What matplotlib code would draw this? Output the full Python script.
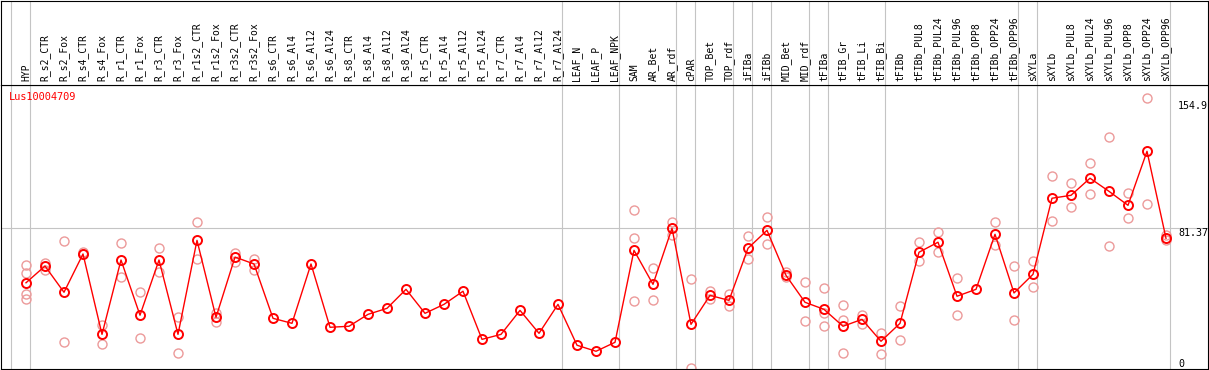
import matplotlib
matplotlib.use('Agg')
import matplotlib.pyplot as pyplot

GENE = 'Lus10004709'

samples = [
    'HYP', 'R_s2_CTR', 'R_s2_Fox', 'R_s4_CTR', 'R_s4_Fox', 'R_r1_CTR', 'R_r1_Fox',
    'R_r3_CTR', 'R_r3_Fox', 'R_r1s2_CTR', 'R_r1s2_Fox', 'R_r3s2_CTR', 'R_r3s2_Fox',
    'R_s6_CTR', 'R_s6_Al4', 'R_s6_Al12', 'R_s6_Al24', 'R_s8_CTR', 'R_s8_Al4',
    'R_s8_Al12', 'R_s8_Al24', 'R_r5_CTR', 'R_r5_Al4', 'R_r5_Al12', 'R_r5_Al24',
    'R_r7_CTR', 'R_r7_Al4', 'R_r7_Al12', 'R_r7_Al24', 'LEAF_N', 'LEAF_P', 'LEAF_NPK',
    'SAM', 'AR_Bet', 'AR_rdf', 'cPAR', 'TOP_Bet', 'TOP_rdf', 'iFIBa', 'iFIBb',
    'MID_Bet', 'MID_rdf', 'tFIBa', 'tFIB_Gr', 'tFIB_Li', 'tFIB_Bi', 'tFIBb',
    'tFIBb_PUL8', 'tFIBb_PUL24', 'tFIBb_PUL96', 'tFIBb_OPP8', 'tFIBb_OPP24',
    'tFIBb_OPP96', 'sXYLa', 'sXYLb', 'sXYLb_PUL8', 'sXYLb_PUL24', 'sXYLb_PUL96',
    'sXYLb_OPP8', 'sXYLb_OPP24', 'sXYLb_OPP96',
]

means = [
    49.8, 59.5, 44.3, 66.5, 19.9, 63.0, 31.0, 63.0, 19.9, 74.4, 29.8, 64.7, 60.7,
    29.2, 26.3, 60.7, 24.0, 24.6, 31.5, 35.0, 46.0, 32.1, 37.3, 44.9, 17.0,
    19.9, 33.8, 20.5, 37.3, 13.6, 10.1, 15.3,
    68.6, 48.9, 81.4, 25.7, 42.5, 39.6, 69.8, 80.2, 54.1, 38.5, 34.4, 24.6,
    28.6, 15.9, 26.3, 67.5, 73.3, 42.0, 46.0, 77.9, 43.9, 54.7, 98.8, 100.5,
    110.4, 102.8, 94.7, 126.0, 75.6,
]

replicates = [
    [59.9, 55.3, 43.3, 40.6], [61.4, 57.0], [73.8, 15.3], [67.8, 66.5],
    [25.2, 14.1], [72.7, 53.0], [44.3, 17.6], [69.8, 55.9], [30.1, 8.9],
    [84.9, 63.8], [32.1, 27.1], [66.9, 61.8], [63.8, 57.2],
    [], [], [], [], [], [], [], [], [], [], [], [], [], [], [], [], [], [], [],
    [91.8, 75.6, 39.1], [58.2, 39.6], [85.0, 77.3], [51.8, 0.2], [44.9, 40.2],
    [43.1, 36.2], [76.7, 63.4], [87.8, 72.1], [55.9, 53.0], [50.1, 27.5],
    [46.6, 32.1, 24.6], [36.7, 28.1, 8.9], [31.0, 25.7], [20.5, 8.3],
    [36.2, 16.5], [73.3, 62.2], [79.1, 67.5], [52.4, 31.0], [],
    [84.9, 71.5], [59.4, 28.1], [62.2, 47.2], [111.5, 85.6], [107.5, 93.5],
    [119.0, 101.1], [134.1, 70.9], [101.7, 87.2], [156.7, 95.3], [77.3, 74.4],
]

# sizes of the sample groups separated by grey lines
group_sizes = [1, 28, 3, 3, 1, 2, 1, 1, 2, 1, 3, 7, 1, 7]

scale_labels = ['154.9', '81.37', '0']
scale_values = [154.9, 81.37, 0]

W, H = 1209, 370
X0, DX = 26, 19          # pixel of first sample, pixel step
PLOT_TOP, PLOT_BOTTOM = 85, 368.7
RED = '#ff0000'
PALE = '#ec9a9a'
GREY = '#c4c4c4'
FONT = 'DejaVu Sans Mono'

fig = pyplot.figure(figsize=(W / 100, H / 100), dpi=100)

x_lim = ((1 - X0) / DX, (W - 1 - X0) / DX)
ax = fig.add_axes([1 / W, (H - PLOT_BOTTOM) / H, (W - 2) / W,
                   (PLOT_BOTTOM - PLOT_TOP) / H])
head = fig.add_axes([1 / W, (H - PLOT_TOP) / H, (W - 2) / W,
                     (PLOT_TOP - 0.5) / H])

for a in (ax, head):
    a.set_xlim(x_lim)
    a.set_xticks([])
    a.set_yticks([])
    for sp in a.spines.values():
        sp.set_linewidth(0.8)
        sp.set_color('black')

ax.set_ylim(0, (PLOT_BOTTOM - PLOT_TOP) * 0.5796)
head.set_ylim(0, 1)

# group separators
bounds = [-1]
for size in group_sizes:
    bounds.append(bounds[-1] + size)
for b in bounds:
    for a in (ax, head):
        a.axvline(b + 4 / DX, color=GREY, lw=0.8, zorder=0)

ax.axhline(scale_values[1], color=GREY, lw=0.8, zorder=0)

xs = list(range(len(samples)))

rx, ry = [], []
for i, reps in enumerate(replicates):
    for v in reps:
        rx.append(i)
        ry.append(v)
ax.plot(rx, ry, 'o', mfc='none', mec=PALE, ms=6.5, mew=1.0, zorder=2)

ax.plot(xs, means, '-', color=RED, lw=1.0, zorder=3)
ax.plot(xs, means, 'o', mfc='none', mec=RED, ms=6.5, mew=1.4, zorder=4)

for i, name in enumerate(samples):
    head.text(i, 4 / PLOT_TOP, name, rotation=90, ha='center', va='bottom',
              fontsize=7, family=FONT, color='black')

label_x = len(samples) - 1 + 12 / DX
for lab, v in zip(scale_labels, scale_values):
    ax.text(label_x, v, lab, ha='left', va='bottom' if v == 0 else 'top',
            fontsize=7.2, family=FONT, color='black')

ax.text(8 / (W - 2), 1 - 6.5 / (PLOT_BOTTOM - PLOT_TOP), GENE,
        transform=ax.transAxes, ha='left', va='top',
        fontsize=7.4, family=FONT, color=RED)

fig.savefig('out.png', dpi=100)
